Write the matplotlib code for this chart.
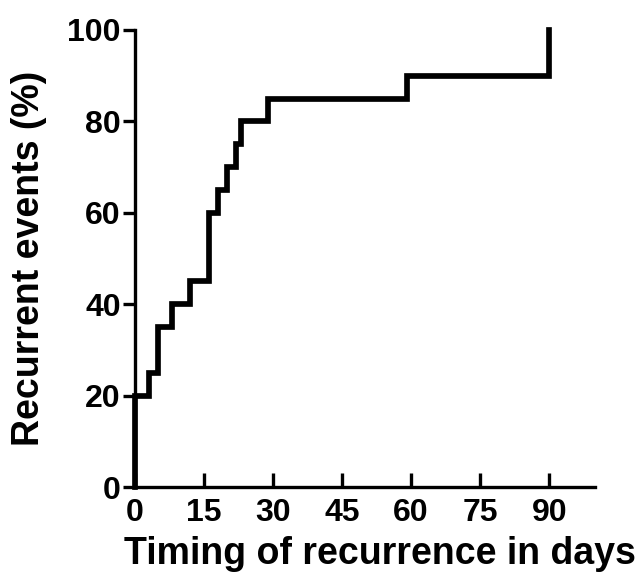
import matplotlib
matplotlib.use("Agg")
import matplotlib.pyplot as plt

plt.rcParams['font.family'] = ['Liberation Sans', 'DejaVu Sans']
plt.rcParams['font.weight'] = 'bold'

# step data
days = [0, 0, 3, 5, 8, 12, 16, 18, 20, 22, 23, 29, 59, 90]
events = [0, 20, 25, 35, 40, 45, 60, 65, 70, 75, 80, 85, 90, 100]
xticks = [0, 15, 30, 45, 60, 75, 90]
yticks = [0, 20, 40, 60, 80, 100]

fig = plt.figure(figsize=(6.36, 5.76), dpi=100)
ax = fig.add_axes([0.212, 0.1545, 0.724, 0.7935])

ax.plot(days, events, drawstyle='steps-post', color='black', lw=4.1,
        solid_joinstyle='miter', clip_on=False)

ax.set_xlim(0, 100)
ax.set_ylim(0, 100)
ax.set_xticks(xticks)
ax.set_yticks(yticks)

for s in ['top', 'right']:
    ax.spines[s].set_visible(False)
for s in ['left', 'bottom']:
    ax.spines[s].set_linewidth(2.4)

ax.tick_params(axis='x', direction='in', length=10, width=2.4, labelsize=23, pad=8)
ax.tick_params(axis='y', direction='out', length=9, width=2.4, labelsize=23, pad=1)
for lab in ax.get_xticklabels() + ax.get_yticklabels():
    lab.set_fontweight('bold')

ax.set_xlabel('Timing of recurrence in days', fontsize=27, fontweight='bold')
ax.set_ylabel('Recurrent events (%)', fontsize=27, fontweight='bold')
ax.xaxis.set_label_coords(0.533, -0.108)
ax.yaxis.set_label_coords(-0.19, 0.5)

plt.savefig('out.png', dpi=100)
plt.close()
